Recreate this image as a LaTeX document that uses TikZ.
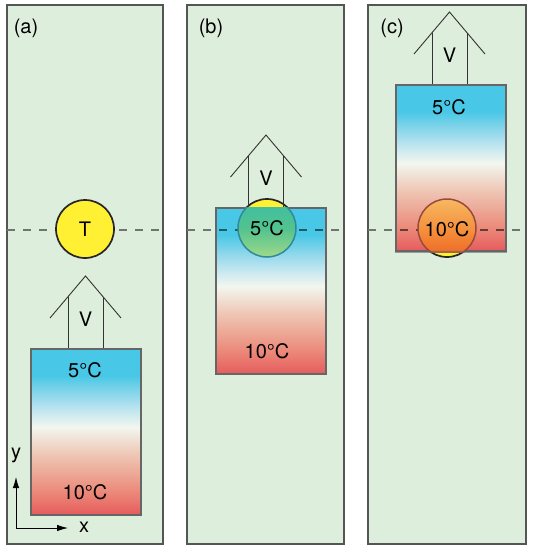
\documentclass[tikz,border=0pt]{standalone}
\usepackage{fontspec}
\setmainfont{TeX Gyre Heros}
\usetikzlibrary{arrows.meta,calc}
\definecolor{panelbg}{HTML}{DEEEDC}
\definecolor{panelline}{HTML}{555555}
\definecolor{boxline}{HTML}{666666}
\definecolor{tyellow}{HTML}{FFF034}
\definecolor{gA}{HTML}{E65B5C}
\definecolor{gB}{HTML}{EB8C7C}
\definecolor{gC}{HTML}{EFC5B3}
\definecolor{gD}{HTML}{F2F6EF}
\definecolor{gE}{HTML}{BDE5EF}
\definecolor{gF}{HTML}{86D5EA}
\definecolor{gG}{HTML}{48C8E6}
\definecolor{bgA}{HTML}{9FD98A}
\definecolor{bgB}{HTML}{52C28E}
\definecolor{bgC}{HTML}{3DBFA5}
\definecolor{cgA}{HTML}{EC6424}
\definecolor{cgB}{HTML}{F48A38}
\definecolor{cgC}{HTML}{F6B860}
\definecolor{blineb}{HTML}{2F8A9E}
\definecolor{blinec}{HTML}{9A4A3C}
\pgfdeclareverticalshading{boxgrad}{100bp}{color(0bp)=(gA); color(25bp)=(gA); color(32.5bp)=(gB); color(43bp)=(gC); color(51.5bp)=(gD); color(57bp)=(gE); color(62bp)=(gF); color(67bp)=(gG); color(75bp)=(gG); color(100bp)=(gG)}
\pgfdeclareverticalshading{circbgrad}{100bp}{color(0bp)=(bgA); color(25bp)=(bgA); color(50bp)=(bgB); color(75bp)=(bgC); color(100bp)=(bgC)}
\pgfdeclareverticalshading{circcgrad}{100bp}{color(0bp)=(cgA); color(25bp)=(cgA); color(45bp)=(cgB); color(75bp)=(cgC); color(100bp)=(cgC)}
\tikzset{
  panel/.style={draw=panelline, line width=1.2pt, fill=panelbg},
  tbox/.style={draw=boxline, line width=2.2pt, shading=boxgrad, minimum width=110pt, minimum height=166pt, inner sep=0pt, anchor=north},
  tcirc/.style={circle, draw=black!85, line width=1.7pt, fill=tyellow, minimum size=58pt, inner sep=0pt},
  vline/.style={draw=black!80, line width=0.9pt},
  lbl/.style={font=\fontsize{20}{22}\selectfont, inner sep=0pt},
  dline/.style={draw=black!55, line width=1.3pt, dash pattern=on 8pt off 8pt},
}
\newcommand{\varrow}[2]{%
  \draw[vline] ($(#1)+(-35.5,-30)$) -- ($(#1)+(0,-72)$) -- ($(#1)+(35.5,-30)$);
  \draw[vline] ($(#1)+(-17.5,0)$) -- ($(#1)+(-17.5,-51)$);
  \draw[vline] ($(#1)+(17.5,0)$) -- ($(#1)+(17.5,-51)$);
  \node[lbl] (#2) at ($(#1)+(0,-29)$) {V};
}
\begin{document}
\begin{tikzpicture}[x=1pt,y=-1pt]
\useasboundingbox (0,0) rectangle (533,550);
% panels
\draw[panel] (7,5) rectangle (163,544);
\draw[panel] (187,5) rectangle (344,544);
\draw[panel] (368,5) rectangle (526,544);
\node[lbl] (la) at (26,28) {(a)};
\node[lbl] (lb) at (211,28) {(b)};
\node[lbl] (lc) at (392,28) {(c)};
% dashed level lines
\coordinate (da1) at (7,230); \coordinate (da2) at (163,230);
\coordinate (db1) at (187,230); \coordinate (db2) at (344,230);
\coordinate (dc1) at (368,230); \coordinate (dc2) at (526,230);
\draw[dline] (da1) -- (da2);
\draw[dline] (db1) -- (db2);
\draw[dline] (dc1) -- (dc2);
% ---- panel (a)
\node[tcirc, lbl] (ta) at (85,229) {T};
\node[tbox] (boxa) at (86,348) {};
\coordinate (topa) at (85.5,348);
\varrow{topa}{va}
\node[lbl] (a5) at (85,370) {5°C};
\node[lbl] (a10) at (85,492) {10°C};
\coordinate (org) at (16,528);
\coordinate (yend) at (16,477);
\coordinate (xend) at (68,528);
\draw[line width=0.9pt, -{Latex[length=11pt,width=6.5pt]}] (org) -- (yend);
\draw[line width=0.9pt, -{Latex[length=11pt,width=6.5pt]}] (org) -- (xend);
\node[lbl] (ylab) at (16,455) {y};
\node[lbl] (xlab) at (84,527) {x};
% ---- panel (b)
\node[tcirc] (tb) at (267,228) {};
\node[tbox] (boxb) at (271,207) {};
\coordinate (topb) at (266,207);
\varrow{topb}{vb}
\begin{scope}
  \clip (boxb.south west) rectangle (boxb.north east);
  \begin{scope}[blend mode=multiply]
    \draw[dline] (db1) -- (db2);
  \end{scope}
  \shade[shading=circbgrad] (tb.center) circle (29pt);
  \draw[blineb, line width=1.5pt] (tb.center) circle (29pt);
\end{scope}
\node[lbl] (b5) at (267,228) {5°C};
\node[lbl] (b10) at (267,351) {10°C};
% ---- panel (c)
\node[tcirc] (tc) at (447,228) {};
\node[tbox] (boxc) at (451,84) {};
\coordinate (topc) at (449.5,84);
\varrow{topc}{vc}
\begin{scope}
  \clip (boxc.south west) rectangle (boxc.north east);
  \begin{scope}[blend mode=multiply]
    \draw[dline] (dc1) -- (dc2);
  \end{scope}
  \shade[shading=circcgrad] (tc.center) circle (29pt);
  \draw[blinec, line width=1.5pt] (tc.center) circle (29pt);
\end{scope}
\draw[boxline, line width=2.2pt, opacity=0.6] (boxc.south west) -- (boxc.south east);
\node[lbl] (c5) at (449,107) {5°C};
\node[lbl] (c10) at (447,229) {10°C};
\end{tikzpicture}
\end{document}
